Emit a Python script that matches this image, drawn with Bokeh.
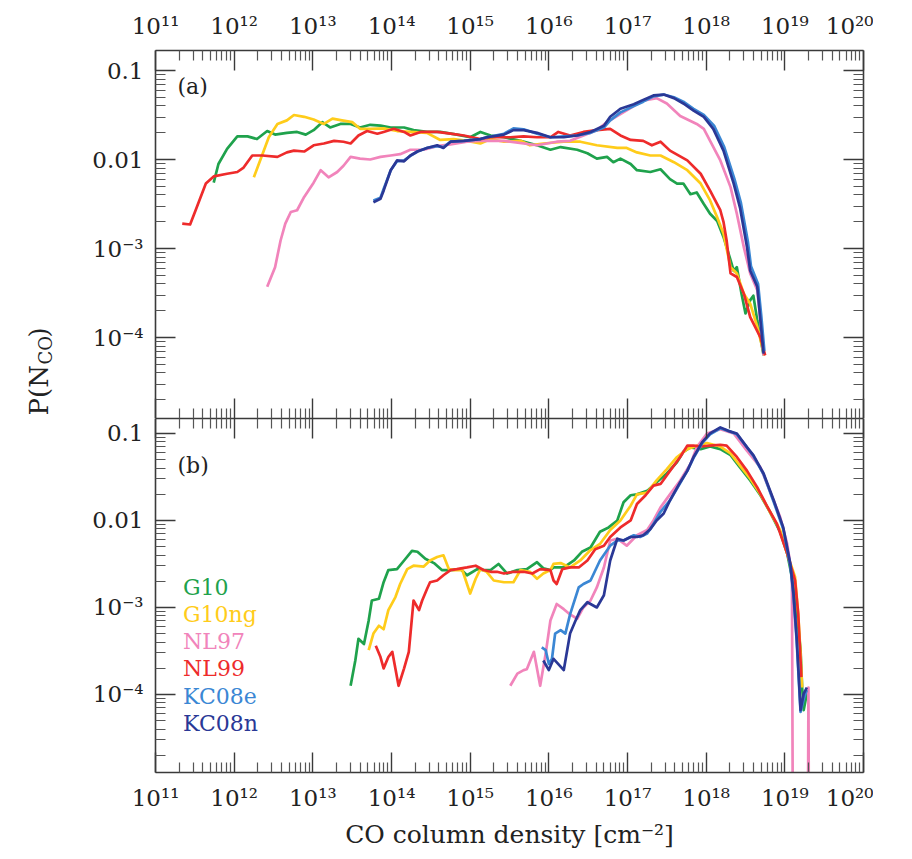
import numpy as np
from bokeh.plotting import figure
from bokeh.models import Range1d, LogAxis, FixedTicker, Label
from bokeh.layouts import column, row
from bokeh.embed import file_html
from bokeh.resources import INLINE
from math import pi

# ---------------- data (log10 N_CO, log10 P) ----------------
# panel (a)
A_G10_LOGN = [11.74, 11.80, 11.91, 12.04, 12.17, 12.29, 12.42, 12.52, 12.67, 12.80, 12.91, 13.01, 13.12, 13.22, 13.35,
              13.48, 13.60, 13.73, 13.86, 13.99, 14.16, 14.28, 14.45, 14.62, 14.83, 15.00, 15.13, 15.26, 15.43, 15.64,
              15.85, 16.02, 16.15, 16.36, 16.49, 16.61, 16.74, 16.82, 16.91, 17.04, 17.12, 17.29, 17.42, 17.54, 17.63,
              17.71, 17.80, 17.88, 17.97, 18.05, 18.14, 18.22, 18.31, 18.35, 18.39, 18.45, 18.50, 18.56, 18.60, 18.65, 18.73]
A_G10_LOGP = [-2.26, -2.05, -1.88, -1.74, -1.74, -1.77, -1.68, -1.72, -1.70, -1.69, -1.72, -1.67, -1.58, -1.64, -1.60,
              -1.60, -1.64, -1.61, -1.62, -1.64, -1.64, -1.67, -1.69, -1.69, -1.72, -1.75, -1.69, -1.73, -1.75, -1.79,
              -1.84, -1.89, -1.86, -1.89, -1.93, -1.99, -1.97, -2.03, -1.99, -2.05, -2.12, -2.14, -2.11, -2.22, -2.27,
              -2.27, -2.39, -2.37, -2.50, -2.61, -2.69, -2.87, -3.13, -3.25, -3.21, -3.51, -3.73, -3.58, -3.53, -3.81, -4.20]

A_G10NG_LOGN = [12.25, 12.33, 12.44, 12.55, 12.67, 12.76, 12.89, 13.01, 13.14, 13.25, 13.37, 13.50, 13.60, 13.73, 13.90,
                14.07, 14.24, 14.45, 14.62, 14.79, 14.96, 15.13, 15.26, 15.43, 15.64, 15.76, 15.93, 16.19, 16.40, 16.61,
                16.87, 16.99, 17.12, 17.29, 17.42, 17.59, 17.76, 17.93, 18.05, 18.14, 18.22, 18.31, 18.39, 18.48, 18.56,
                18.65, 18.74]
A_G10NG_LOGP = [-2.20, -2.01, -1.75, -1.60, -1.56, -1.50, -1.52, -1.55, -1.60, -1.54, -1.56, -1.58, -1.655, -1.655, -1.65,
                -1.68, -1.69, -1.70, -1.78, -1.77, -1.79, -1.82, -1.77, -1.80, -1.79, -1.84, -1.82, -1.80, -1.80, -1.84,
                -1.87, -1.87, -1.92, -1.955, -1.955, -2.03, -2.12, -2.27, -2.46, -2.65, -2.83, -3.21, -3.28, -3.51, -3.62,
                -3.88, -4.20]

A_NL97_LOGN = [12.42, 12.52, 12.59, 12.65, 12.72, 12.80, 12.89, 13.01, 13.10, 13.20, 13.31, 13.39, 13.48, 13.60, 13.73,
               13.86, 13.99, 14.11, 14.24, 14.41, 14.58, 14.75, 14.96, 15.13, 15.43, 15.85, 16.10, 16.27, 16.44, 16.61,
               16.74, 16.91, 17.08, 17.20, 17.37, 17.50, 17.67, 17.88, 17.97, 18.05, 18.18, 18.31, 18.39, 18.48, 18.56,
               18.65, 18.69, 18.73]
A_NL97_LOGP = [-3.43, -3.21, -2.91, -2.72, -2.59, -2.57, -2.42, -2.26, -2.12, -2.20, -2.14, -2.07, -1.97, -1.99, -2.00,
               -1.97, -1.955, -1.94, -1.89, -1.89, -1.85, -1.83, -1.80, -1.79, -1.79, -1.84, -1.80, -1.79, -1.73, -1.67,
               -1.58, -1.49, -1.40, -1.34, -1.31, -1.37, -1.51, -1.60, -1.655, -1.79, -2.01, -2.31, -2.61, -2.99, -3.28,
               -3.47, -3.81, -4.20]

A_NL99_LOGN = [11.34, 11.44, 11.51, 11.64, 11.74, 11.91, 12.04, 12.12, 12.23, 12.36, 12.55, 12.67, 12.76, 12.89, 13.01,
               13.14, 13.27, 13.39, 13.48, 13.58, 13.69, 13.82, 13.90, 14.03, 14.16, 14.24, 14.37, 14.58, 14.75, 14.92,
               15.13, 15.26, 15.51, 15.68, 15.85, 16.02, 16.12, 16.27, 16.44, 16.61, 16.78, 16.91, 17.04, 17.20, 17.31,
               17.42, 17.54, 17.76, 17.93, 18.05, 18.18, 18.22, 18.26, 18.31, 18.39, 18.48, 18.56, 18.69, 18.75]
A_NL99_LOGP = [-2.72, -2.73, -2.57, -2.27, -2.19, -2.16, -2.14, -2.09, -1.955, -1.955, -1.97, -1.92, -1.90, -1.91, -1.84,
               -1.82, -1.79, -1.80, -1.82, -1.73, -1.68, -1.71, -1.69, -1.655, -1.69, -1.73, -1.69, -1.69, -1.71, -1.73,
               -1.77, -1.75, -1.75, -1.74, -1.75, -1.75, -1.69, -1.73, -1.69, -1.67, -1.655, -1.73, -1.78, -1.79, -1.84,
               -1.80, -1.90, -2.01, -2.16, -2.35, -2.57, -2.70, -2.91, -3.28, -3.32, -3.51, -3.77, -4.00, -4.20]

A_KC08E_LOGN = [13.77, 13.86, 13.90, 13.99, 14.07, 14.16, 14.24, 14.33, 14.45, 14.58, 14.66, 14.75, 14.92, 15.13, 15.21,
                15.43, 15.55, 15.68, 15.85, 16.02, 16.19, 16.36, 16.53, 16.70, 16.78, 16.91, 17.08, 17.20, 17.33, 17.46,
                17.59, 17.71, 17.84, 17.97, 18.10, 18.23, 18.36, 18.44, 18.53, 18.57, 18.66, 18.70, 18.74]
A_KC08E_LOGP = [-2.46, -2.43, -2.33, -2.12, -2.02, -2.01, -1.96, -1.91, -1.87, -1.85, -1.86, -1.80, -1.79, -1.77, -1.75,
                -1.71, -1.65, -1.66, -1.71, -1.75, -1.74, -1.73, -1.70, -1.64, -1.56, -1.47, -1.40, -1.35, -1.29, -1.27,
                -1.30, -1.35, -1.43, -1.50, -1.62, -1.86, -2.22, -2.48, -2.92, -3.20, -3.40, -3.75, -4.15]

A_KC08N_LOGN = [13.77, 13.86, 13.90, 13.99, 14.07, 14.16, 14.24, 14.33, 14.45, 14.58, 14.66, 14.75, 14.92, 15.13, 15.21,
                15.43, 15.55, 15.68, 15.85, 16.02, 16.19, 16.36, 16.53, 16.70, 16.78, 16.91, 17.08, 17.20, 17.33, 17.46,
                17.59, 17.71, 17.84, 17.97, 18.09, 18.22, 18.35, 18.43, 18.52, 18.56, 18.65, 18.69, 18.73]
A_KC08N_LOGP = [-2.48, -2.44, -2.35, -2.12, -2.01, -2.02, -1.955, -1.91, -1.87, -1.84, -1.87, -1.80, -1.79, -1.77, -1.75,
                -1.72, -1.67, -1.67, -1.70, -1.75, -1.75, -1.73, -1.69, -1.62, -1.52, -1.43, -1.38, -1.33, -1.28, -1.27,
                -1.31, -1.37, -1.45, -1.52, -1.655, -1.90, -2.27, -2.54, -2.99, -3.25, -3.43, -3.81, -4.18]

# panel (b)   (None = empty bin)
B_G10_LOGN = [13.48, 13.54, 13.58, 13.65, 13.71, 13.75, 13.84, 13.90, 13.96, 14.07, 14.16, 14.26, 14.33, 14.43, 14.54,
              14.64, 14.75, 14.88, 14.96, 15.09, 15.17, 15.26, 15.36, 15.47, 15.60, 15.72, 15.85, 15.93, 16.02, 16.06,
              16.19, 16.32, 16.42, 16.53, 16.65, 16.76, 16.87, 16.95, 17.04, 17.12, 17.25, 17.37, 17.50, 17.63, 17.71,
              17.80, 17.93, 18.05, 18.18, 18.31, 18.43, 18.56, 18.69, 18.81, 18.94, 19.03, 19.09, 19.15, 19.20, 19.22,
              19.24, 19.28]
B_G10_LOGP = [-3.90, -3.61, -3.36, -3.42, -3.15, -2.92, -2.90, -2.71, -2.57, -2.56, -2.46, -2.35, -2.36, -2.44, -2.49,
              -2.57, -2.57, -2.56, -2.63, -2.56, -2.57, -2.57, -2.50, -2.61, -2.57, -2.56, -2.48, -2.55, -2.57, -2.54,
              -2.54, -2.46, -2.36, -2.31, -2.13, -2.08, -2.00, -1.79, -1.71, -1.70, -1.66, -1.56, -1.46, -1.33, -1.21,
              -1.16, -1.18, -1.15, -1.18, -1.25, -1.39, -1.54, -1.71, -1.90, -2.13, -2.38, -2.65, -3.03, -3.49, -3.92,
              -4.18, -3.99]

B_G10NG_LOGN = [13.71, 13.77, 13.84, 13.90, 13.96, 14.05, 14.11, 14.20, 14.28, 14.41, 14.49, 14.58, 14.66, 14.73, 14.79,
                14.90, 15.00, 15.07, 15.13, 15.21, 15.30, 15.43, 15.55, 15.64, 15.76, 15.85, 15.93, 16.02, 16.06, 16.15,
                16.27, 16.40, 16.53, 16.65, 16.78, 16.91, 17.04, 17.12, 17.25, 17.37, 17.50, 17.63, 17.76, 17.88, 18.01,
                18.18, 18.31, 18.43, 18.56, 18.69, 18.81, 18.94, 19.03, 19.13, 19.17, 19.20, 19.22]
B_G10NG_LOGP = [-3.49, -3.30, -3.21, -3.25, -3.03, -2.88, -2.73, -2.56, -2.52, -2.53, -2.46, -2.42, -2.40, -2.56, -2.57,
                -2.57, -2.84, -2.67, -2.56, -2.59, -2.69, -2.71, -2.71, -2.57, -2.59, -2.67, -2.61, -2.57, -2.50, -2.49,
                -2.54, -2.46, -2.34, -2.27, -2.11, -2.00, -1.83, -1.70, -1.68, -1.54, -1.41, -1.27, -1.18, -1.14, -1.11,
                -1.15, -1.23, -1.37, -1.52, -1.70, -1.90, -2.11, -2.38, -2.65, -3.07, -3.53, -3.92]

B_NL97_LOGN = [15.51, 15.60, 15.68, 15.72, 15.81, 15.89, 15.96, 16.02, 16.10, 16.19, 16.27, 16.36, 16.44, 16.53, 16.61,
               16.70, 16.78, 16.87, 16.99, 17.12, 17.25, 17.33, 17.42, 17.54, 17.67, 17.80, 17.88, 18.01, 18.18, 18.35,
               18.52, 18.69, 18.81, 18.94, 19.03, 19.09, 19.20, 19.30, 19.40]
B_NL97_LOGP = [-3.90, -3.76, -3.72, -3.71, -3.51, -3.90, -3.53, -3.15, -2.96, -3.02, -3.08, -3.13, -3.00, -2.92, -2.77,
               -2.54, -2.23, -2.21, -2.29, -2.17, -2.11, -2.00, -1.85, -1.70, -1.54, -1.35, -1.16, -1.00, -0.95, -1.00,
               -1.20, -1.39, -1.66, -1.96, -2.27, -2.62, None, -3.92, None]

B_NL99_LOGN = [13.80, 13.86, 13.90, 13.96, 14.01, 14.09, 14.16, 14.22, 14.28, 14.35, 14.39, 14.45, 14.49, 14.58, 14.66,
               14.75, 14.83, 14.96, 15.07, 15.17, 15.26, 15.34, 15.43, 15.55, 15.68, 15.79, 15.89, 16.02, 16.06, 16.10,
               16.17, 16.27, 16.38, 16.49, 16.59, 16.70, 16.78, 16.91, 17.04, 17.12, 17.23, 17.33, 17.42, 17.54, 17.67,
               17.76, 17.84, 17.93, 18.05, 18.18, 18.26, 18.39, 18.52, 18.65, 18.77, 18.90, 19.03, 19.13, 19.17, 19.21]
B_NL99_LOGP = [-3.44, -3.57, -3.70, -3.57, -3.51, -3.90, -3.70, -3.51, -2.92, -3.03, -2.92, -2.79, -2.71, -2.69, -2.63,
               -2.57, -2.56, -2.54, -2.52, -2.57, -2.59, -2.59, -2.61, -2.59, -2.59, -2.61, -2.56, -2.57, -2.69, -2.73,
               -2.56, -2.54, -2.54, -2.46, -2.33, -2.29, -2.19, -2.08, -2.00, -1.81, -1.71, -1.60, -1.58, -1.43, -1.27,
               -1.14, -1.14, -1.15, -1.14, -1.13, -1.14, -1.27, -1.43, -1.62, -1.83, -2.04, -2.38, -2.69, -3.07, -3.80]

B_KC08E_LOGN = [15.91, 15.96, 16.00, 16.04, 16.08, 16.15, 16.21, 16.27, 16.38, 16.44, 16.53, 16.65, 16.78, 16.87, 16.95,
                17.08, 17.16, 17.25, 17.33, 17.42, 17.54, 17.67, 17.76, 17.84, 17.95, 18.05, 18.18, 18.28, 18.39, 18.52,
                18.60, 18.73, 18.86, 18.98, 19.07, 19.11, 19.15, 19.18, 19.20, 19.24, 19.28]
B_KC08E_LOGP = [-3.46, -3.49, -3.65, -3.59, -3.30, -3.26, -3.30, -3.08, -2.77, -2.73, -2.69, -2.46, -2.29, -2.23, -2.23,
                -2.17, -2.19, -2.15, -2.04, -1.90, -1.77, -1.57, -1.43, -1.28, -1.11, -1.01, -0.94, -0.97, -1.01, -1.16,
                -1.26, -1.47, -1.79, -2.10, -2.52, -2.87, -3.38, -3.88, -4.20, -4.05, -3.95]

B_KC08N_LOGN = [15.93, 16.00, 16.06, 16.19, 16.27, 16.34, 16.40, 16.49, 16.61, 16.70, 16.78, 16.87, 16.95, 17.04, 17.12,
                17.20, 17.29, 17.37, 17.46, 17.54, 17.67, 17.76, 17.84, 17.95, 18.05, 18.18, 18.28, 18.39, 18.52, 18.60,
                18.73, 18.86, 18.98, 19.07, 19.11, 19.15, 19.18, 19.20, 19.24, 19.28]
B_KC08N_LOGP = [-3.61, -3.72, -3.59, -3.72, -3.30, -3.15, -3.03, -2.94, -3.00, -2.86, -2.46, -2.21, -2.23, -2.19, -2.19,
                -2.17, -2.10, -2.00, -1.92, -1.77, -1.56, -1.43, -1.27, -1.10, -1.00, -0.93, -0.97, -1.00, -1.16, -1.25,
                -1.46, -1.77, -2.08, -2.50, -2.84, -3.34, -3.84, -4.18, -3.99, -3.92]

NAMES = ["G10", "G10ng", "NL97", "NL99", "KC08e", "KC08n"]
COLORS = ["#1fa24c", "#ffcc1a", "#f184bb", "#ee2b2b", "#3b87d4", "#2a3896"]

X_MAJOR = [1e11, 1e12, 1e13, 1e14, 1e15, 1e16, 1e17, 1e18, 1e19, 1e20]
X_EXPONENTS = [11, 12, 13, 14, 15, 16, 17, 18, 19, 20]
Y_MAJOR = [1e-4, 1e-3, 1e-2, 1e-1]
Y_TICK_TEXT = ["10⁻⁴", "10⁻³", "0.01", "0.1"]

PANEL_A = [(A_G10_LOGN, A_G10_LOGP), (A_G10NG_LOGN, A_G10NG_LOGP), (A_NL97_LOGN, A_NL97_LOGP),
           (A_NL99_LOGN, A_NL99_LOGP), (A_KC08E_LOGN, A_KC08E_LOGP), (A_KC08N_LOGN, A_KC08N_LOGP)]
PANEL_B = [(B_G10_LOGN, B_G10_LOGP), (B_G10NG_LOGN, B_G10NG_LOGP), (B_NL97_LOGN, B_NL97_LOGP),
           (B_NL99_LOGN, B_NL99_LOGP), (B_KC08E_LOGN, B_KC08E_LOGP), (B_KC08N_LOGN, B_KC08N_LOGP)]

# ---------------- styling ----------------
FONT = "DejaVu Serif"
TEXT = "#222222"
AXC = "#3a3a3a"
SUP = str.maketrans("0123456789-", "⁰¹²³⁴⁵⁶⁷⁸⁹⁻")
X_TICK_TEXT = {m: "10" + str(e).translate(SUP) for m, e in zip(X_MAJOR, X_EXPONENTS)}
X_MINOR = [k * m for m in X_MAJOR[:-1] for k in range(2, 10)]
Y_MINOR = [k * m for m in [1e-5] + Y_MAJOR for k in range(2, 10)]
Y_LABELS = dict(zip(Y_MAJOR, Y_TICK_TEXT))

STRIP_W = 72          # narrow strip holding the rotated y title
BORDER_LEFT = 155 - STRIP_W
W = BORDER_LEFT + 708 + 10
H_A = 50 + 368
H_B = 354 + 80


def style_axis(ax, major, minor, labels, show):
    ax.ticker = FixedTicker(ticks=major, minor_ticks=minor)
    ax.axis_line_color = AXC
    ax.axis_line_width = 1.6
    ax.major_tick_line_color = AXC
    ax.major_tick_line_width = 1.4
    ax.minor_tick_line_color = "#555555"
    ax.minor_tick_line_width = 1.2
    ax.major_tick_in = 20
    ax.major_tick_out = 0
    ax.minor_tick_in = 10
    ax.minor_tick_out = 0
    if show:
        ax.major_label_overrides = labels
        ax.major_label_text_font = FONT
        ax.major_label_text_font_size = "23px"
        ax.major_label_text_color = TEXT
        ax.major_label_standoff = 12
    else:
        ax.major_label_overrides = {k: "" for k in labels}
        ax.major_label_text_font_size = "0px"
        ax.major_label_standoff = 0


def make_panel(y_lo, y_hi, height, b_top, b_bottom, top_labels, bottom_labels, series):
    p = figure(width=W, height=height, x_axis_type="log", y_axis_type="log",
               x_range=Range1d(1e11, 1e20), y_range=Range1d(y_lo, y_hi),
               output_backend="svg", toolbar_location=None,
               min_border_left=BORDER_LEFT, min_border_right=10,
               min_border_top=b_top, min_border_bottom=b_bottom)
    p.grid.visible = False
    p.outline_line_color = None
    p.background_fill_color = "white"
    p.border_fill_color = "white"
    p.add_layout(LogAxis(), "above")
    p.add_layout(LogAxis(), "right")
    style_axis(p.above[0], X_MAJOR, X_MINOR, X_TICK_TEXT, top_labels)
    style_axis(p.below[0], X_MAJOR, X_MINOR, X_TICK_TEXT, bottom_labels)
    style_axis(p.left[0], Y_MAJOR, Y_MINOR, Y_LABELS, True)
    style_axis(p.right[0], Y_MAJOR, Y_MINOR, Y_LABELS, False)
    for (ln, lp), col in zip(series, COLORS):
        x = 10 ** np.array(ln)
        # empty bins are drawn down to far below the axis floor
        y = np.array([10 ** v if v is not None else 1e-30 for v in lp])
        p.line(x, y, line_color=col, line_width=2.7, line_join="round")
    return p


pa = make_panel(10 ** -4.91, 10 ** -0.775, H_A, 50, 0, True, False, PANEL_A)
pb = make_panel(10 ** -4.897, 10 ** -0.828, H_B, 0, 80, False, True, PANEL_B)

pb.below[0].axis_label = "CO column density [cm⁻²]"
pb.below[0].axis_label_text_font = FONT
pb.below[0].axis_label_text_font_size = "25px"
pb.below[0].axis_label_text_font_style = "normal"
pb.below[0].axis_label_text_color = TEXT
pb.below[0].axis_label_standoff = 6

pa.add_layout(Label(x=10 ** 11.28, y=10 ** -1.18, text="(a)", text_font=FONT, text_font_size="22px",
                    text_color=TEXT, text_align="left", text_baseline="middle"))
pb.add_layout(Label(x=10 ** 11.28, y=10 ** -1.37, text="(b)", text_font=FONT, text_font_size="22px",
                    text_color=TEXT, text_align="left", text_baseline="middle"))

# colored legend texts in panel (b)
LEGEND_LOGY = [-2.77, -3.08, -3.39, -3.70, -4.02, -4.33]
for name, col, ly in zip(NAMES, COLORS, LEGEND_LOGY):
    pb.add_layout(Label(x=10 ** 11.35, y=10 ** ly, text=name, text_font=FONT, text_font_size="22px",
                        text_color=col, text_align="left", text_baseline="middle"))

# strip on the left carrying the rotated y-axis title P(N_CO); its range is in page pixels
strip = figure(width=STRIP_W, height=H_A + H_B, x_range=Range1d(0, STRIP_W), y_range=Range1d(H_A + H_B, 0),
               x_axis_location=None, y_axis_location=None, output_backend="svg", toolbar_location=None,
               min_border=0)
strip.grid.visible = False
strip.outline_line_color = None
strip.border_fill_color = "white"
strip.add_layout(Label(x=38, y=415, text="P(N", angle=pi / 2, text_font=FONT, text_font_size="26px",
                       text_color=TEXT, text_align="left", text_baseline="middle"))
strip.add_layout(Label(x=45, y=364, text="CO", angle=pi / 2, text_font=FONT, text_font_size="18px",
                       text_color=TEXT, text_align="left", text_baseline="middle"))
strip.add_layout(Label(x=38, y=337, text=")", angle=pi / 2, text_font=FONT, text_font_size="26px",
                       text_color=TEXT, text_align="left", text_baseline="middle"))

layout = row(strip, column(pa, pb, spacing=0), spacing=0)
open("out.html", "w").write(file_html(layout, INLINE))
